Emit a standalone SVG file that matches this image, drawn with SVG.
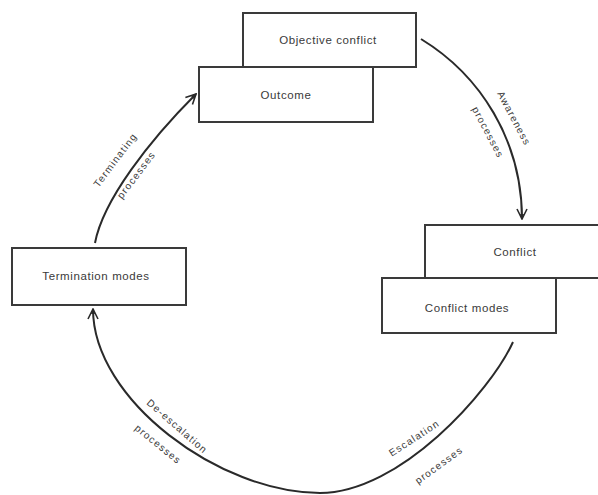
<svg xmlns="http://www.w3.org/2000/svg" width="598" height="495" viewBox="0 0 598 495">
<style>
.box{fill:#fff;stroke:#3a3a3a;stroke-width:2}
.t{font-family:"Liberation Sans",Arial,sans-serif;font-size:11.5px;fill:#3a3a3a;text-anchor:middle;letter-spacing:0.6px}
.l{font-family:"Liberation Sans",Arial,sans-serif;font-size:10px;fill:#3a3a3a;text-anchor:middle;letter-spacing:1.2px}
.c{fill:none;stroke:#2a2a2a;stroke-width:2}
</style>
<defs>
<marker id="arr" viewBox="0 0 12 12" refX="11" refY="6" markerWidth="12" markerHeight="12" markerUnits="userSpaceOnUse" orient="auto">
<path d="M1,1 L11,6 L1,11" fill="none" stroke="#2a2a2a" stroke-width="1.6"/>
<path d="M6,4 L11,6 L6,8 Z" fill="#2a2a2a"/>
</marker>
</defs>
<rect width="598" height="495" fill="#fff"/>
<g id="connectors">
<path class="c" d="M421,39 C480,75 522,140 522,219" marker-end="url(#arr)"/>
<path class="c" d="M513,342 C490,392 400,493 320,493 C220,493 93,400 93,309" marker-end="url(#arr)"/>
<path class="c" d="M95,243 C103,200 150,140 196,94" marker-end="url(#arr)"/>
<text class="l" transform="translate(511,120) rotate(62)">Awareness</text>
<text class="l" transform="translate(485,134) rotate(62)">processes</text>
<text class="l" transform="translate(118,162) rotate(-53)">Terminating</text>
<text class="l" transform="translate(139,177) rotate(-53)">processes</text>
<text class="l" transform="translate(175,429) rotate(41)">De-escalation</text>
<text class="l" transform="translate(156,447) rotate(39)">processes</text>
<text class="l" transform="translate(416,441) rotate(-33)">Escalation</text>
<text class="l" transform="translate(441,468) rotate(-36)">processes</text>
</g>
<g id="objective">
<rect class="box" x="243" y="13" width="173" height="54"/>
<text class="t" x="328" y="44">Objective conflict</text>
</g>
<g id="outcome">
<rect class="box" x="199" y="67" width="174" height="55"/>
<text class="t" x="286" y="99">Outcome</text>
</g>
<g id="conflict">
<rect class="box" x="425" y="225" width="180" height="53"/>
<text class="t" x="515" y="256">Conflict</text>
</g>
<g id="conflictmodes">
<rect class="box" x="382" y="278" width="174" height="55"/>
<text class="t" x="467" y="312">Conflict modes</text>
</g>
<g id="termination">
<rect class="box" x="12" y="248" width="174" height="57"/>
<text class="t" x="96" y="280">Termination modes</text>
</g>
</svg>
